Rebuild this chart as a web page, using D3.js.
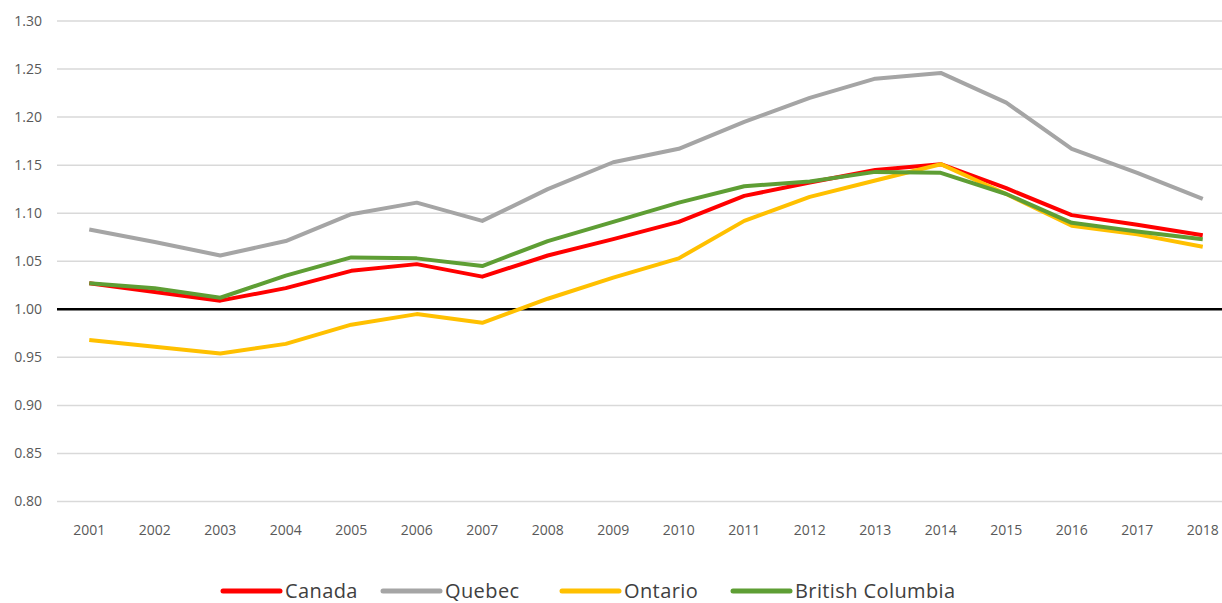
<!DOCTYPE html>
<html>
<head>
<meta charset="utf-8">
<script src="https://cdn.jsdelivr.net/npm/d3@7"></script>
<style>
  body { margin: 0; background: #fff; }
  svg { display: block; font-family: "Open Sans", sans-serif; }
</style>
</head>
<body>
<svg width="1222" height="603"></svg>
<script>
var years = [2001, 2002, 2003, 2004, 2005, 2006, 2007, 2008, 2009, 2010, 2011, 2012, 2013, 2014, 2015, 2016, 2017, 2018];
var canada  = [1.027, 1.018, 1.009, 1.022, 1.040, 1.047, 1.034, 1.056, 1.073, 1.091, 1.118, 1.132, 1.145, 1.151, 1.126, 1.098, 1.088, 1.077];
var quebec  = [1.083, 1.070, 1.056, 1.071, 1.099, 1.111, 1.092, 1.125, 1.153, 1.167, 1.195, 1.220, 1.240, 1.246, 1.215, 1.167, 1.142, 1.115];
var ontario = [0.968, 0.961, 0.954, 0.964, 0.984, 0.995, 0.986, 1.011, 1.033, 1.053, 1.092, 1.117, 1.134, 1.151, 1.120, 1.087, 1.078, 1.065];
var bc      = [1.027, 1.022, 1.012, 1.035, 1.054, 1.053, 1.045, 1.071, 1.091, 1.111, 1.128, 1.133, 1.143, 1.142, 1.120, 1.090, 1.081, 1.073];
var yTicks = [0.80, 0.85, 0.90, 0.95, 1.00, 1.05, 1.10, 1.15, 1.20, 1.25, 1.30];

var series = [
  {name: "Canada", values: canada, color: "#ff0000"},
  {name: "Quebec", values: quebec, color: "#a5a5a5"},
  {name: "Ontario", values: ontario, color: "#ffc000"},
  {name: "British Columbia", values: bc, color: "#5e9e34"}
];

var svg = d3.select("svg");

// x: one band per year, line points at band centres
var x = d3.scaleBand().domain(years).range([56.5, 1235.5]);
var y = d3.scaleLinear().domain([0.80, 1.30]).range([501.5, 21]);

// gridlines
svg.append("g")
  .selectAll("line")
  .data(yTicks)
  .enter()
  .append("line")
    .attr("x1", 57)
    .attr("x2", 1222)
    .attr("y1", function(d) { return y(d); })
    .attr("y2", function(d) { return y(d); })
    .attr("stroke", "#d9d9d9")
    .attr("stroke-width", 1.5);

// y labels
svg.append("g")
  .selectAll("text")
  .data(yTicks)
  .enter()
  .append("text")
    .attr("x", 42)
    .attr("y", function(d) { return y(d); })
    .attr("dy", "0.35em")
    .attr("text-anchor", "end")
    .attr("font-size", 14)
    .attr("fill", "#595959")
    .text(function(d) { return d.toFixed(2); });

// x labels
svg.append("g")
  .selectAll("text")
  .data(years)
  .enter()
  .append("text")
    .attr("x", function(d) { return x(d) + x.bandwidth() / 2; })
    .attr("y", 530)
    .attr("dy", "0.35em")
    .attr("text-anchor", "middle")
    .attr("font-size", 14)
    .attr("fill", "#595959")
    .text(function(d) { return d; });

// reference line at 1.00
svg.append("line")
  .attr("x1", 57)
  .attr("x2", 1222)
  .attr("y1", y(1))
  .attr("y2", y(1))
  .attr("stroke", "#000")
  .attr("stroke-width", 2.5);

var line = d3.line()
  .x(function(d, i) { return x(years[i]) + x.bandwidth() / 2; })
  .y(function(d) { return y(d); });

svg.append("g")
  .selectAll("path")
  .data(series)
  .enter()
  .append("path")
    .attr("d", function(d) { return line(d.values); })
    .attr("fill", "none")
    .attr("stroke", function(d) { return d.color; })
    .attr("stroke-width", 4)
    .attr("stroke-linejoin", "round");

// legend
var legendX = [223, 383, 562, 733];
var legend = svg.append("g");
var items = legend.selectAll("g")
  .data(series)
  .enter()
  .append("g")
    .attr("transform", function(d, i) { return "translate(" + legendX[i] + ",0)"; });

items.append("line")
  .attr("x1", 0)
  .attr("x2", 57)
  .attr("y1", 591)
  .attr("y2", 591)
  .attr("stroke", function(d) { return d.color; })
  .attr("stroke-width", 5)
  .attr("stroke-linecap", "round");

items.append("text")
  .attr("x", 62)
  .attr("y", 597.5)
  .attr("font-size", 20)
  .attr("letter-spacing", "0.4px")
  .attr("fill", "#404040")
  .text(function(d) { return d.name; });
</script>
</body>
</html>
